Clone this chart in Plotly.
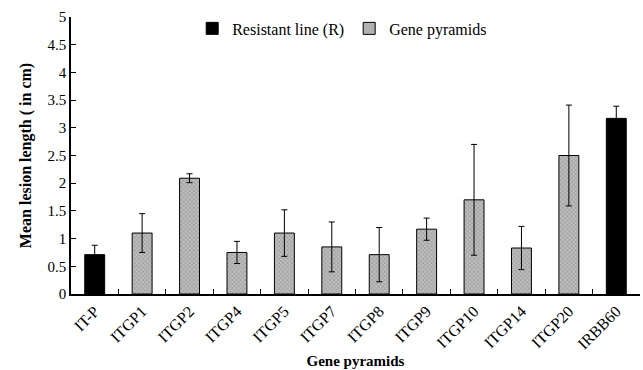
import plotly.graph_objects as go

categories = ["IT-P", "ITGP1", "ITGP2", "ITGP4", "ITGP5", "ITGP7", "ITGP8",
              "ITGP9", "ITGP10", "ITGP14", "ITGP20", "IRBB60"]
means = [0.71, 1.10, 2.09, 0.75, 1.10, 0.85, 0.71, 1.17, 1.70, 0.83, 2.50, 3.17]
errors = [0.17, 0.35, 0.08, 0.20, 0.42, 0.45, 0.49, 0.20, 1.00, 0.39, 0.91, 0.22]
resistant = ["IT-P", "IRBB60"]

res_y = [m if c in resistant else None for c, m in zip(categories, means)]
res_e = [e if c in resistant else None for c, e in zip(categories, errors)]
gp_y = [None if c in resistant else m for c, m in zip(categories, means)]
gp_e = [None if c in resistant else e for c, e in zip(categories, errors)]

font = "Liberation Serif, Times New Roman, serif"
fig = go.Figure()
fig.add_trace(go.Bar(
    x=categories, y=res_y, name="Resistant line (R)",
    marker=dict(color="black", line=dict(color="black", width=1)),
    error_y=dict(type="data", array=res_e, visible=True, color="black", thickness=1, width=3),
    width=0.42,
))
fig.add_trace(go.Bar(
    x=categories, y=gp_y, name="Gene pyramids",
    marker=dict(color="#a0a0a0", line=dict(color="black", width=1),
                pattern=dict(shape="x", fgcolor="#606060", bgcolor="#bcbcbc", size=3, solidity=0.3)),
    error_y=dict(type="data", array=gp_e, visible=True, color="black", thickness=1, width=3),
    width=0.42,
))
fig.update_layout(
    width=643, height=370, barmode="overlay",
    margin=dict(l=71, r=3, t=17, b=76),
    plot_bgcolor="white", paper_bgcolor="white",
    font=dict(family=font, size=15, color="black"),
    legend=dict(orientation="h", x=0.213, y=1.02, xanchor="left", yanchor="top",
                font=dict(size=16), bgcolor="rgba(0,0,0,0)", itemwidth=30,
                tracegroupgap=0),
    xaxis=dict(
        title=dict(text="<b>Gene pyramids</b>", font=dict(size=15), standoff=4),
        tickangle=-45, tickson="boundaries", ticks="inside", ticklen=5,
        showline=True, linecolor="black", linewidth=1.5, tickcolor="black",
        tickfont=dict(size=16),
    ),
    yaxis=dict(
        title=dict(text="<b>Mean lesion length ( in cm)</b>", font=dict(size=16), standoff=12),
        range=[0, 5], dtick=0.5, ticks="inside", ticklen=5,
        showline=True, linecolor="black", linewidth=1.5, tickcolor="black",
        showgrid=False, zeroline=False, tickfont=dict(size=15),
    ),
)
fig.write_html("out.html")
